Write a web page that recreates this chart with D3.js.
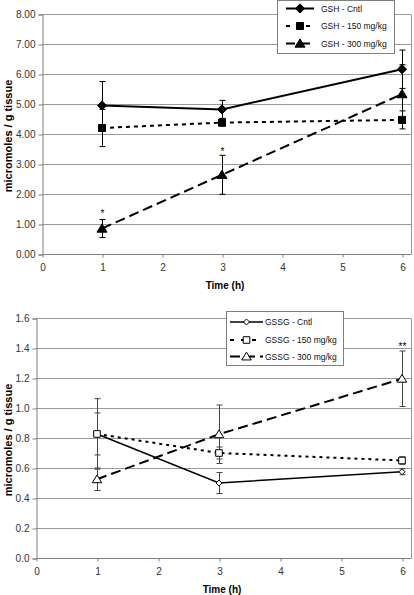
<!DOCTYPE html>
<html><head><meta charset="utf-8">
<script src="https://cdn.jsdelivr.net/npm/d3@7"></script>
<style>html,body{margin:0;padding:0;background:#fff}svg{display:block}</style>
</head><body>
<svg id="c" width="414" height="595"></svg>
<script>
// ---- data ----
const timePoints = [1, 3, 6];
const xTicks = [0, 1, 2, 3, 4, 5, 6];

const gshLabels = ["GSH - Cntl", "GSH - 150 mg/kg", "GSH - 300 mg/kg"];
const gshCntl = [4.95, 4.82, 6.16];
const gshCntlErr = [0.80, 0.30, 0.64];
const gsh150 = [4.20, 4.38, 4.47];
const gsh150Err = [0.62, 0.12, 0.30];
const gsh300 = [0.85, 2.64, 5.33];
const gsh300Err = [0.30, 0.65, 0.98];
const gshYTicks = [0, 1, 2, 3, 4, 5, 6, 7, 8];
const gshStars = [{x: 1, y: 1.40, t: "*"}, {x: 3, y: 3.48, t: "*"}];

const gssgLabels = ["GSSG - Cntl", "GSSG - 150 mg/kg", "GSSG - 300 mg/kg"];
const gssgCntl = [0.827, 0.50, 0.575];
const gssgCntlErr = [0.235, 0.07, 0.02];
const gssg150 = [0.827, 0.70, 0.65];
const gssg150Err = [0.14, 0.04, 0.025];
const gssg300 = [0.525, 0.825, 1.195];
const gssg300Err = [0.075, 0.195, 0.185];
const gssgYTicks = [0, 0.2, 0.4, 0.6, 0.8, 1.0, 1.2, 1.4, 1.6];
const gssgStars = [{x: 6, y: 1.42, t: "**"}];

const yTitle = "micromoles / g tissue";
const xTitle = "Time (h)";

// ---- drawing ----
const svg = d3.select("#c");
const FONT = "'Liberation Sans', Arial, sans-serif";

function markerPath(shape, r) {
  if (shape === "diamond") return `M0,${-r}L${r},0L0,${r}L${-r},0Z`;
  if (shape === "square") return `M${-r},${-r}H${r}V${r}H${-r}Z`;
  // triangle
  return `M0,${-r}L${r*1.1},${r*0.8}L${-r*1.1},${r*0.8}Z`;
}

function panel(cfg) {
  const g = svg.append("g");
  const x = d3.scaleLinear().domain([0, 6]).range([cfg.x0, cfg.x6]);
  const y = d3.scaleLinear().domain([0, cfg.yMax]).range([cfg.yBot, cfg.yTop]);

  // gridlines
  g.selectAll(".grid").data(cfg.yTicks.filter(d => d > 0)).join("line")
    .attr("x1", cfg.x0).attr("x2", cfg.right)
    .attr("y1", d => Math.round(y(d)) + 0.5).attr("y2", d => Math.round(y(d)) + 0.5)
    .attr("stroke", "#9a9a9a").attr("stroke-width", 1);
  // right border
  g.append("line").attr("x1", cfg.right + 0.5).attr("x2", cfg.right + 0.5)
    .attr("y1", Math.round(cfg.yTop) + 0.5).attr("y2", cfg.yBot)
    .attr("stroke", "#9a9a9a");

  // y axis
  const yAxis = d3.axisLeft(y).tickValues(cfg.yTicks).tickFormat(d3.format(cfg.fmt))
    .tickSize(4).tickPadding(3);
  const ya = g.append("g").attr("transform", `translate(${cfg.x0 + 0.5},0.5)`).call(yAxis);
  ya.select(".domain").attr("stroke", "#808080");
  ya.selectAll(".tick line").attr("stroke", "#808080");
  ya.selectAll("text").attr("font-family", FONT).attr("font-size", 10).attr("fill", "#333");

  // x axis
  const xAxis = d3.axisBottom(x).tickValues(xTicks).tickFormat(d3.format("d"))
    .tickSize(3).tickPadding(6);
  const xa = g.append("g").attr("transform", `translate(0.5,${Math.round(cfg.yBot) + 0.5})`).call(xAxis);
  xa.select(".domain").attr("d", `M${cfg.x0},0H${cfg.right}`).attr("stroke", "#808080");
  xa.selectAll(".tick line").attr("stroke", "#808080");
  xa.selectAll("text").attr("font-family", FONT).attr("font-size", 10).attr("fill", "#333");

  // titles
  g.append("text").attr("x", (cfg.x6 + cfg.x0) / 2 + 3).attr("y", cfg.xTitleY)
    .attr("text-anchor", "middle").attr("font-family", FONT).attr("font-weight", "bold")
    .attr("font-size", 10).text(xTitle);
  g.append("text").attr("transform", `translate(${cfg.yTitleX},${(cfg.yTop + cfg.yBot) / 2 + 2}) rotate(-90)`)
    .attr("text-anchor", "middle").attr("font-family", FONT).attr("font-weight", "bold")
    .attr("font-size", 11).text(yTitle);

  const line = d3.line().x((d, i) => x(timePoints[i])).y(d => y(d));

  // error bars
  cfg.series.forEach(s => {
    s.values.forEach((v, i) => {
      const cx = Math.round(x(timePoints[i])) + 0.5;
      const hi = y(v + s.err[i]), lo = y(v - s.err[i]);
      g.append("line").attr("x1", cx).attr("x2", cx).attr("y1", hi).attr("y2", lo)
        .attr("stroke", cfg.errColor).attr("stroke-width", 1);
      [hi, lo].forEach(yy => g.append("line").attr("x1", cx - 3).attr("x2", cx + 3)
        .attr("y1", yy).attr("y2", yy).attr("stroke", cfg.errColor).attr("stroke-width", 1));
    });
  });
  // lines
  cfg.series.forEach(s => {
    g.append("path").attr("d", line(s.values)).attr("fill", "none")
      .attr("stroke", "#000").attr("stroke-width", s.width)
      .attr("stroke-dasharray", s.dash);
  });
  // markers
  cfg.series.forEach(s => {
    g.selectAll(null).data(s.values).join("path")
      .attr("transform", (d, i) => `translate(${x(timePoints[i])},${y(d)})`)
      .attr("d", markerPath(s.shape, s.r))
      .attr("fill", cfg.filled ? "#000" : "#fff").attr("stroke", "#000").attr("stroke-width", 1);
  });
  // stars
  g.selectAll(null).data(cfg.stars).join("text")
    .attr("x", d => x(d.x) + 0.5).attr("y", d => y(d.y) + 5)
    .attr("text-anchor", "middle").attr("font-family", FONT).attr("font-size", 10).text(d => d.t);

  // legend
  const L = cfg.legend;
  g.append("rect").attr("x", L.x + 0.5).attr("y", L.y + 0.5).attr("width", L.w).attr("height", L.h)
    .attr("fill", "#fff").attr("stroke", "#808080");
  cfg.series.forEach((s, i) => {
    const yy = L.y + L.rowY[i];
    g.append("line").attr("x1", L.lx0).attr("x2", L.lx1).attr("y1", yy).attr("y2", yy)
      .attr("stroke", "#000").attr("stroke-width", s.width).attr("stroke-dasharray", s.legDash || s.dash);
    g.append("path").attr("transform", `translate(${(L.lx0 + L.lx1) / 2},${yy})`)
      .attr("d", markerPath(s.shape, s.r))
      .attr("fill", cfg.filled ? "#000" : "#fff").attr("stroke", "#000");
    g.append("text").attr("x", L.tx).attr("y", yy + 3).attr("font-family", FONT)
      .attr("font-size", 8.5).attr("fill", "#111").text(s.label);
  });
}

panel({
  x0: 42, x6: 402, right: 411, yTop: 14, yBot: 254, yMax: 8, yTicks: gshYTicks, fmt: ".2f",
  xTitleY: 289, yTitleX: 12, errColor: "#000", filled: true, stars: gshStars,
  series: [
    {label: gshLabels[0], values: gshCntl, err: gshCntlErr, shape: "diamond", r: 4.6, dash: null, width: 2},
    {label: gshLabels[1], values: gsh150, err: gsh150Err, shape: "square", r: 3.5, dash: "4,4", width: 2, legDash: "4,6"},
    {label: gshLabels[2], values: gsh300, err: gsh300Err, shape: "triangle", r: 4.6, dash: "10,5", width: 2, legDash: "9,6"}
  ],
  legend: {x: 277, y: 0, w: 117, h: 53, rowY: [8.5, 26, 43.5], lx0: 286, lx1: 314, tx: 321}
});

panel({
  x0: 36, x6: 402, right: 411, yTop: 318, yBot: 558, yMax: 1.6, yTicks: gssgYTicks, fmt: ".1f",
  xTitleY: 593, yTitleX: 12, errColor: "#444", filled: false, stars: gssgStars,
  series: [
    {label: gssgLabels[0], values: gssgCntl, err: gssgCntlErr, shape: "diamond", r: 3, dash: null, width: 1.5},
    {label: gssgLabels[1], values: gssg150, err: gssg150Err, shape: "square", r: 3.3, dash: "3,4", width: 2, legDash: "4,7"},
    {label: gssgLabels[2], values: gssg300, err: gssg300Err, shape: "triangle", r: 4.3, dash: "10,5", width: 2, legDash: null}
  ],
  legend: {x: 226, y: 311, w: 117, h: 54, rowY: [11, 29, 45.5], lx0: 230, lx1: 263, tx: 265}
});
</script>
</body></html>
